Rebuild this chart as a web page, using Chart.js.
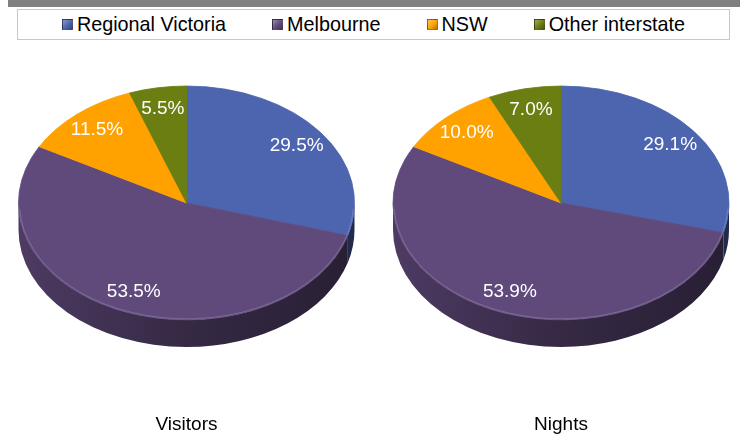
<!DOCTYPE html>
<html>
<head>
<meta charset="utf-8">
<script src="https://cdn.jsdelivr.net/npm/chart.js@4.4.1/dist/chart.umd.min.js"></script>
<style>
  body { margin: 0; background: #fff; font-family: 'Liberation Sans', Arial, sans-serif; }
  #page { position: relative; width: 740px; height: 434px; overflow: hidden; }
  #topbar { position: absolute; left: 8px; top: 0; width: 732px; height: 7px; background: #808080; }
  #legend {
    position: absolute; left: 17px; top: 9px; width: 711px; height: 29px;
    border: 1px solid #c8c8c8; display: flex; align-items: center; justify-content: center; gap: 46px;
  }
  .item { display: flex; align-items: center; font-size: 19.8px; color: #000; white-space: nowrap; }
  .swatch { width: 9px; height: 9px; margin-right: 4px; border: 1px solid rgba(0,0,0,0.35); }
  canvas { position: absolute; top: 0; }
</style>
</head>
<body>
<div id="page">
  <div id="topbar"></div>
  <div id="legend"></div>
  <canvas id="visitorsChart" width="370" height="434" style="left:0"></canvas>
  <canvas id="nightsChart" width="370" height="434" style="left:370px"></canvas>
</div>
<script>
// Share of visitors and nights by origin (%)
const categories = ['Regional Victoria', 'Melbourne', 'NSW', 'Other interstate'];
const visitorsShare = [29.5, 53.5, 11.5, 5.5];
const nightsShare = [29.1, 53.9, 10.0, 7.0];
const panelTitles = ['Visitors', 'Nights'];

const sliceColors = ['#4D64AF', '#604A7C', '#FFA200', '#6A7E12'];

// darken / lighten a hex colour by a factor
function shade(hex, f) {
  const n = parseInt(hex.slice(1), 16);
  const ch = [(n >> 16) & 255, (n >> 8) & 255, n & 255].map(c => {
    const v = f < 1 ? c * f : c + (255 - c) * (f - 1);
    return Math.round(Math.max(0, Math.min(255, v)));
  });
  return `rgb(${ch[0]}, ${ch[1]}, ${ch[2]})`;
}

// HTML legend
const legendEl = document.getElementById('legend');
categories.forEach((name, i) => {
  const item = document.createElement('div');
  item.className = 'item';
  const sw = document.createElement('span');
  sw.className = 'swatch';
  sw.style.background = `linear-gradient(135deg, ${shade(sliceColors[i], 1.35)}, ${sliceColors[i]} 55%, ${shade(sliceColors[i], 0.7)})`;
  item.appendChild(sw);
  item.appendChild(document.createTextNode(name));
  legendEl.appendChild(item);
});

// Squash the pie into an ellipse and give it a side wall
const tiltPlugin = {
  id: 'tilt',
  beforeDatasetsDraw(chart, args, opts) {
    const arcs = chart.getDatasetMeta(0).data;
    if (!arcs.length) return;
    const ctx = chart.ctx;
    const cx = arcs[0].x, cy = arcs[0].y, r = arcs[0].outerRadius;
    const ry = r * opts.ratio;
    const depth = opts.depth;
    const colors = chart.data.datasets[0].backgroundColor;

    arcs.forEach((arc, i) => {
      const s = Math.max(arc.startAngle, 0);
      const e = Math.min(arc.endAngle, Math.PI);
      if (e <= s) return;
      const grad = ctx.createLinearGradient(cx - r, 0, cx + r, 0);
      grad.addColorStop(0, shade(colors[i], 0.8));
      grad.addColorStop(0.5, shade(colors[i], 0.55));
      grad.addColorStop(1, shade(colors[i], 0.42));
      ctx.beginPath();
      ctx.ellipse(cx, cy, r, ry, 0, s, e, false);
      ctx.ellipse(cx, cy + depth, r, ry, 0, e, s, true);
      ctx.closePath();
      ctx.fillStyle = grad;
      ctx.fill();
    });

    ctx.save();
    ctx.translate(cx, cy);
    ctx.scale(1, opts.ratio);
    ctx.translate(-cx, -cy);
  },
  afterDatasetsDraw(chart, args, opts) {
    const ctx = chart.ctx;
    ctx.restore();
    const arcs = chart.getDatasetMeta(0).data;
    if (!arcs.length) return;
    const cx = arcs[0].x, cy = arcs[0].y, r = arcs[0].outerRadius;
    const ry = r * opts.ratio;

    // faint rim along the front edge
    ctx.beginPath();
    ctx.ellipse(cx, cy, r - 1, ry - 1, 0, 0.05, Math.PI - 0.05);
    ctx.strokeStyle = 'rgba(255,255,255,0.18)';
    ctx.lineWidth = 1;
    ctx.stroke();

    // value labels
    const values = chart.data.datasets[0].data;
    ctx.font = '19px "Liberation Sans", Arial, sans-serif';
    ctx.fillStyle = '#fff';
    ctx.textAlign = 'center';
    ctx.textBaseline = 'middle';
    arcs.forEach((arc, i) => {
      const m = (arc.startAngle + arc.endAngle) / 2;
      const lx = cx + opts.labelPos * r * Math.cos(m);
      const ly = cy + opts.labelPos * ry * Math.sin(m);
      ctx.fillText(values[i].toFixed(1) + '%', lx, ly);
    });
  }
};

function makePie(id, values, title, padLeft) {
  return new Chart(document.getElementById(id), {
    type: 'pie',
    data: {
      labels: categories,
      datasets: [{
        data: values,
        backgroundColor: sliceColors,
        borderColor: sliceColors,
        borderWidth: 1,
        hoverOffset: 0,
        radius: 168
      }]
    },
    options: {
      responsive: false,
      animation: false,
      events: [],
      layout: { padding: { left: padLeft, right: 0, top: 0, bottom: 0 } },
      plugins: {
        legend: { display: false },
        tooltip: { enabled: false },
        title: {
          display: true,
          position: 'bottom',
          text: title,
          color: '#000',
          font: { family: '"Liberation Sans", Arial, sans-serif', size: 19, weight: 'normal', lineHeight: 0.95 },
          padding: { top: 10, bottom: 0 }
        },
        tilt: { ratio: 0.696, depth: 27, labelPos: 0.82 }
      }
    },
    plugins: [tiltPlugin]
  });
}

makePie('visitorsChart', visitorsShare, panelTitles[0], 3);
makePie('nightsChart', nightsShare, panelTitles[1], 12);
</script>
</body>
</html>
